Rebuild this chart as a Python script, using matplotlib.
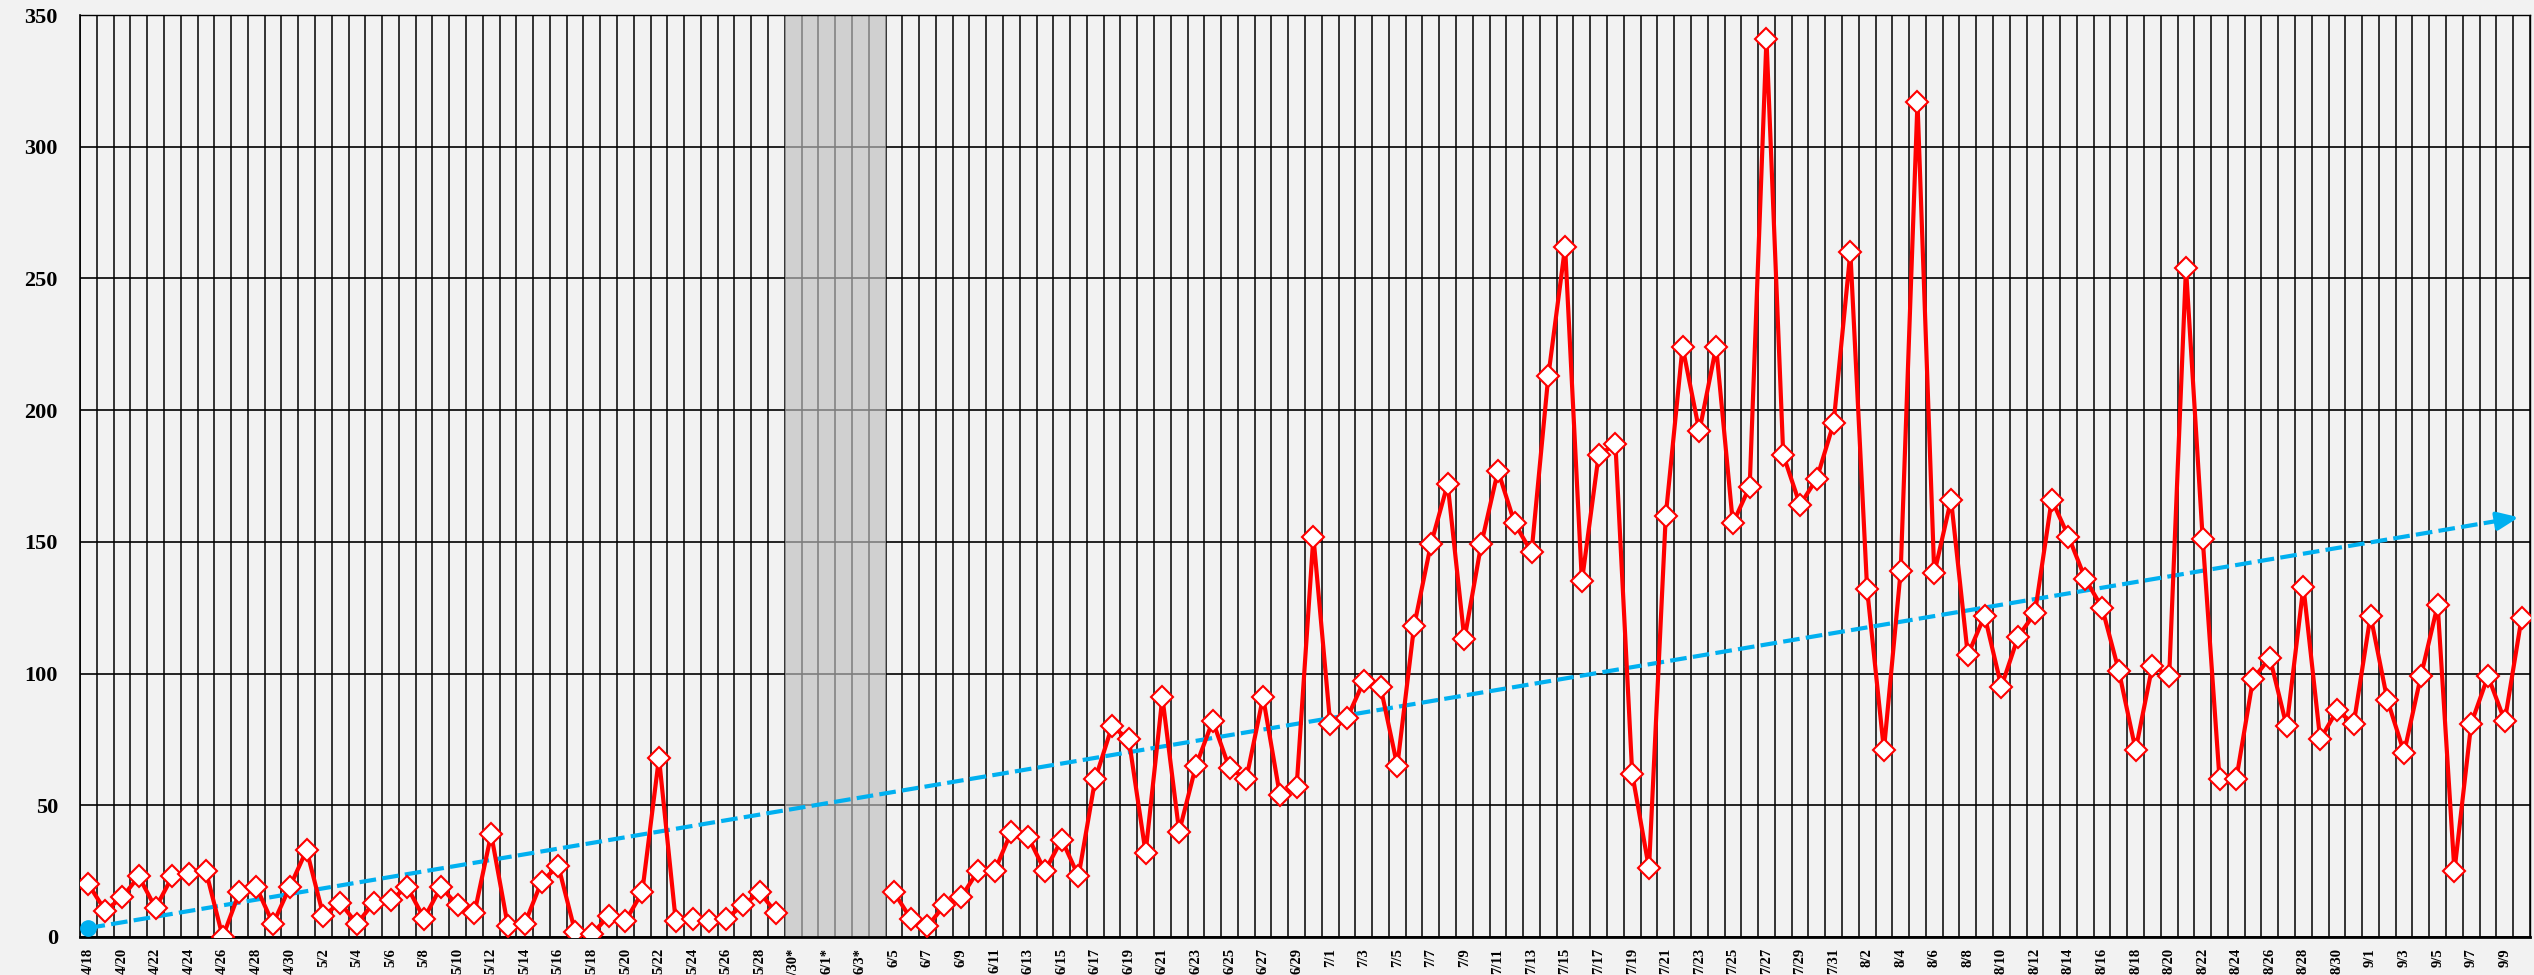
import numpy as np
import pandas as pd
import matplotlib
matplotlib.use('Agg')
import matplotlib.pyplot as plt

# daily values, 4/18 .. 9/10 (5/30 - 6/4 missing)
apr = [20, 10, 15, 23, 11, 23, 24, 25, 0, 17, 19, 5, 19]
may = [33, 8, 13, 5, 13, 14, 19, 7, 19, 12, 9, 39, 4, 5, 21, 27, 2, 1, 8, 6,
       17, 68, 6, 7, 6, 7, 12, 17, 9]
gap = [np.nan] * 6
jun = [17, 7, 4, 12, 15, 25, 25, 40, 38, 25, 37, 23, 60, 80, 75, 32, 91, 40,
       65, 82, 64, 60, 91, 54, 57, 152]
jul = [81, 83, 97, 95, 65, 118, 149, 172, 113, 149, 177, 157, 146, 213, 262,
       135, 183, 187, 62, 26, 160, 224, 192, 224, 157, 171, 341, 183, 164, 174, 195]
aug = [260, 132, 71, 139, 317, 138, 166, 107, 122, 95, 114, 123, 166, 152, 136,
       125, 101, 71, 103, 99, 254, 151, 60, 60, 98, 106, 80, 133, 75, 86, 81]
sep = [122, 90, 70, 99, 126, 25, 81, 99, 82, 121]

values = np.array(apr + may + gap + jun + jul + aug + sep, dtype=float)
dates = [f"{d.month}/{d.day}" for d in pd.date_range('2021-04-18', '2021-09-10')]
gap_days = ['5/30', '5/31', '6/1', '6/2', '6/3', '6/4']
trend = [3.4, 159.5]  # start / end of trend arrow

x = np.arange(len(dates))
labels = [d + '*' if d in gap_days else d for d in dates]

bg = '#f2f2f2'
fig = plt.figure(figsize=(25.34, 9.75), dpi=100, facecolor=bg)
ax = fig.add_axes([0.0316, 0.039, 0.9668, 0.9456], facecolor=bg)

ax.set_xlim(-0.5, len(dates) - 0.5)
ax.set_ylim(0, 350)

# grid
for v in np.arange(-0.5, len(dates), 1.0):
    ax.axvline(v, color='black', lw=1.1, zorder=1)
for h in range(0, 351, 50):
    ax.axhline(h, color='black', lw=1.2, zorder=1)

# missing period band
g0 = dates.index(gap_days[0])
g1 = dates.index(gap_days[-1])
ax.axvspan(g0 - 0.5, g1 + 0.5, color='#bfbfbf', alpha=0.65, lw=0, zorder=2)

ax.plot(x, values, color='red', lw=3.0, marker='D', markersize=11.5,
        markerfacecolor='white', markeredgecolor='red', markeredgewidth=1.5,
        zorder=5)

# trend arrow
tc = '#00b0f0'
n = len(dates) - 1
ax.plot([0, n - 1.2], [trend[0], trend[0] + (trend[1] - trend[0]) * (n - 1.2) / n],
        color=tc, lw=3.0, ls=(0, (4, 1.5)), zorder=4)
ax.plot([0], [trend[0]], marker='o', ls='none', color=tc, markersize=11,
        clip_on=False, zorder=6)
ax.annotate('', xy=(n, trend[1]),
            xytext=(n - 1.3, trend[0] + (trend[1] - trend[0]) * (n - 1.3) / n),
            arrowprops=dict(arrowstyle='-|>,head_length=1.3,head_width=0.55',
                            color=tc, lw=3.0), zorder=4)

ax.set_yticks(range(0, 351, 50))
ax.set_yticklabels([str(t) for t in range(0, 351, 50)],
                   fontfamily='Liberation Serif', fontweight='bold', fontsize=16)
ax.set_xticks(x[::2])
ax.set_xticklabels(labels[::2], rotation=90, va='top', ha='center',
                   fontfamily='Liberation Serif', fontweight='bold', fontsize=10.5)
ax.tick_params(axis='y', length=0, pad=16)
ax.tick_params(axis='x', length=0, pad=8)

for s in ['top', 'right']:
    ax.spines[s].set_color('black')
    ax.spines[s].set_linewidth(1.0)
ax.spines['left'].set_linewidth(1.2)
ax.spines['bottom'].set_linewidth(2.0)

fig.savefig('out.png', dpi=100, facecolor=bg)
